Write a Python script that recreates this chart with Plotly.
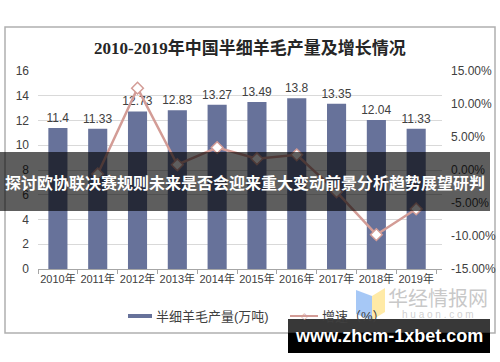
import plotly.graph_objects as go

years = ["2010年", "2011年", "2012年", "2013年", "2014年", "2015年", "2016年", "2017年", "2018年", "2019年"]
output = [11.4, 11.33, 12.73, 12.83, 13.27, 13.49, 13.8, 13.35, 12.04, 11.33]
growth_years = years[1:]
growth = [-0.6, 12.4, 0.8, 3.4, 1.7, 2.3, -3.3, -9.8, -5.9]
right_ticks = [-15, -10, -5, 0, 5, 10, 15]
right_labels = ["-15.00%", "-10.00%", "-5.00%", "0.00%", "5.00%", "10.00%", "15.00%"]

W, H = 500, 362
L, R, T, B = 38, 442, 71, 269


def px(x):
    return (x - L) / (R - L)


def py(y):
    return (B - y) / (B - T)


BAR = "#67729a"
LINE = "#d39c96"
TXT = "#404040"
FONT = "Liberation Sans, Noto Sans CJK SC"

fig = go.Figure()
fig.add_trace(go.Bar(
    x=years, y=output, marker=dict(color=BAR, line=dict(width=0)),
    text=[f"{v:g}" for v in output], textposition="outside", constraintext="none",
    textfont=dict(size=12, color=TXT, family=FONT), cliponaxis=False,
    name="半细羊毛产量(万吨)", showlegend=False,
))
fig.add_trace(go.Scatter(
    x=growth_years, y=growth, yaxis="y2", mode="lines+markers",
    line=dict(color=LINE, width=2.5),
    marker=dict(symbol="diamond", size=9, color="white", line=dict(color=LINE, width=1.5)),
    name="增速（%）", showlegend=False,
))

shapes = []
annotations = []

# chart frame
shapes.append(dict(type="rect", xref="paper", yref="paper", x0=px(5), x1=px(495), y0=py(333), y1=py(27),
                   line=dict(color="#b0b0b0", width=1.5), layer="below"))

# title
annotations.append(dict(text="<b>2010-2019年中国半细羊毛产量及增长情况</b>", xref="paper", yref="paper",
                        x=px(250), y=py(48), showarrow=False, xanchor="center", yanchor="middle",
                        font=dict(size=17, color="#262626", family="Liberation Serif, Noto Sans CJK SC")))

# manual legend
shapes.append(dict(type="line", xref="paper", yref="paper", x0=px(128), x1=px(152), y0=py(316), y1=py(316),
                   line=dict(color=BAR, width=4)))
annotations.append(dict(text="半细羊毛产量(万吨)", xref="paper", yref="paper", x=px(154), y=py(316),
                        showarrow=False, xanchor="left", yanchor="middle",
                        font=dict(size=13, color=TXT, family=FONT)))
shapes.append(dict(type="line", xref="paper", yref="paper", x0=px(290), x1=px(318), y0=py(316), y1=py(316),
                   line=dict(color=LINE, width=2)))
annotations.append(dict(text="◇", xref="paper", yref="paper", x=px(304), y=py(316),
                        showarrow=False, xanchor="center", yanchor="middle",
                        font=dict(size=9, color=LINE, family="DejaVu Sans")))
annotations.append(dict(text="增速（%）", xref="paper", yref="paper", x=px(320), y=py(316),
                        showarrow=False, xanchor="left", yanchor="middle",
                        font=dict(size=13, color=TXT, family=FONT)))

# huaon watermark logo
shapes.append(dict(type="path", xref="paper", yref="paper",
                   path=f"M {px(356)},{py(290)} L {px(372)},{py(296)} L {px(372)},{py(320)} L {px(356)},{py(314)} Z",
                   fillcolor="rgba(150,190,245,0.85)", line=dict(width=0)))
shapes.append(dict(type="path", xref="paper", yref="paper",
                   path=f"M {px(372)},{py(296)} L {px(385)},{py(288)} L {px(385)},{py(312)} L {px(372)},{py(320)} Z",
                   fillcolor="rgba(255,230,150,0.85)", line=dict(width=0)))
annotations.append(dict(text="华经情报网", xref="paper", yref="paper", x=px(438), y=py(297),
                        showarrow=False, xanchor="center", yanchor="middle",
                        font=dict(size=20, color="rgba(190,190,190,0.85)", family="Noto Sans CJK SC")))
annotations.append(dict(text="h u a o n . c o m", xref="paper", yref="paper", x=px(438), y=py(314),
                        showarrow=False, xanchor="center", yanchor="middle",
                        font=dict(size=10, color="rgba(200,200,200,0.85)", family=FONT)))

# dark banner overlay
shapes.append(dict(type="rect", xref="paper", yref="paper", x0=px(0), x1=px(490), y0=py(211), y1=py(152),
                   fillcolor="rgba(0,0,0,0.63)", line=dict(width=0), layer="above"))
annotations.append(dict(text="<b>探讨欧协联决赛规则未来是否会迎来重大变动前景分析趋势展望研判</b>", xref="paper", yref="paper",
                        x=px(245), y=py(182), showarrow=False, xanchor="center", yanchor="middle",
                        font=dict(size=16, color="white", family="Noto Sans CJK SC")))

# url box
shapes.append(dict(type="rect", xref="paper", yref="paper", x0=px(288), x1=px(490), y0=py(333), y1=py(319),
                   fillcolor="rgba(0,0,0,0.78)", line=dict(width=0), layer="above"))
shapes.append(dict(type="rect", xref="paper", yref="paper", x0=px(288), x1=px(490), y0=py(353), y1=py(333),
                   fillcolor="black", line=dict(width=0), layer="above"))
annotations.append(dict(text="<b>www.zhcm-1xbet.com</b>", xref="paper", yref="paper",
                        x=px(389), y=py(336), showarrow=False, xanchor="center", yanchor="middle",
                        font=dict(size=18, color="white", family="Liberation Sans")))

fig.update_layout(
    width=W, height=H,
    margin=dict(l=L, r=W - R, t=T, b=H - B, pad=0, autoexpand=False),
    paper_bgcolor="white", plot_bgcolor="white",
    bargap=0.52,
    showlegend=False,
    xaxis=dict(type="category", tickfont=dict(size=11, color=TXT, family=FONT), tickangle=0,
               showline=True, linecolor="#a6a6a6", linewidth=1, automargin=False,
               ticks="outside", tickson="boundaries", ticklen=4, tickcolor="#a6a6a6",
               showgrid=False),
    yaxis=dict(range=[0, 16], dtick=2, tickfont=dict(size=12, color=TXT, family=FONT),
               showgrid=True, gridcolor="#d9d9d9", gridwidth=1, zeroline=False, automargin=False,
               ticks="", ticklabelstandoff=8, fixedrange=True),
    yaxis2=dict(range=[-15, 15], tickvals=right_ticks, ticktext=right_labels, overlaying="y", side="right",
                tickfont=dict(size=12, color=TXT, family=FONT), showgrid=False, zeroline=False,
                automargin=False, ticklabelstandoff=8),
    shapes=shapes, annotations=annotations,
)

fig.write_html("out.html", config={"displayModeBar": False},
               post_script="document.body.style.margin='0';")
